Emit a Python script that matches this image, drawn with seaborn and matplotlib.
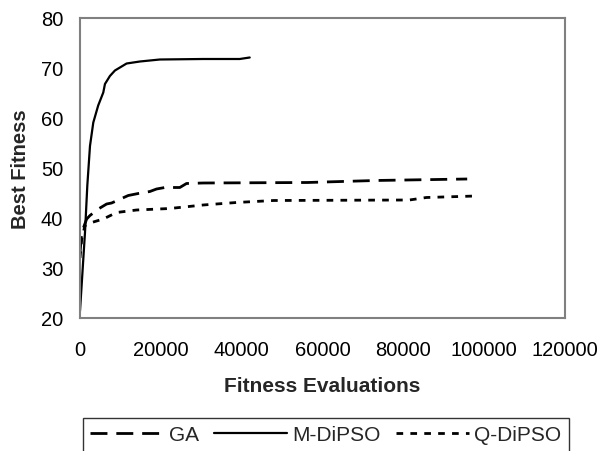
import matplotlib
matplotlib.use("Agg")
import matplotlib.pyplot as plt
import seaborn as sns
import pandas as pd

# ---- data ----
ga_x = [0, 420, 1650, 2470, 4530, 6590, 7820, 10290, 11940, 14410, 17290, 18940,
        21000, 24700, 26350, 30460, 56300, 73100, 95800]
ga_y = [33, 37.1, 39.8, 40.5, 41.8, 42.8, 43.0, 43.9, 44.5, 44.9, 45.3, 45.8,
        46.1, 46.1, 46.9, 47.0, 47.1, 47.5, 47.8]

mdipso_x = [0, 1235, 1810, 2470, 3290, 4500, 5760, 6175, 7400, 8645, 9880,
            11530, 14820, 19760, 30460, 39520, 41990]
mdipso_y = [21.4, 37.1, 46.5, 54.4, 59.1, 62.5, 65.1, 66.8, 68.4, 69.5, 70.1,
            70.9, 71.3, 71.7, 71.8, 71.8, 72.1]

qdipso_x = [0, 420, 1235, 2470, 5760, 9060, 14000, 22230, 30460, 38700, 47900,
            81500, 85700, 97900]
qdipso_y = [32, 35.8, 38.5, 39.0, 39.8, 41.1, 41.6, 41.9, 42.6, 43.1, 43.5,
            43.6, 44.1, 44.4]

series_names = ["GA", "M-DiPSO", "Q-DiPSO"]
x_ticks = [0, 20000, 40000, 60000, 80000, 100000, 120000]
y_ticks = [20, 30, 40, 50, 60, 70, 80]

sns.set_style("white")
plt.rcParams['font.family'] = ['Liberation Sans', 'DejaVu Sans']

W, H = 599, 452
fig = plt.figure(figsize=(W/100, H/100), dpi=100)
ax = fig.add_axes([80/W, 1-319/H, (565-80)/W, (319-19)/H])

styles = {
    "GA": ((0, (6.1, 3.2)), 2.0),
    "M-DiPSO": ("-", 1.6),
    "Q-DiPSO": ((0, (2.4, 2.6)), 2.0),
}
data = {
    "GA": (ga_x, ga_y),
    "M-DiPSO": (mdipso_x, mdipso_y),
    "Q-DiPSO": (qdipso_x, qdipso_y),
}
for name in series_names:
    xs, ys = data[name]
    df = pd.DataFrame({"x": xs, "y": ys})
    ls, lw = styles[name]
    sns.lineplot(data=df, x="x", y="y", ax=ax, color="black", linewidth=lw,
                 linestyle=ls, label=name, legend=False)

ax.set_xlim(0, 120000)
ax.set_ylim(20, 80)
ax.set_xticks(x_ticks)
ax.set_xticklabels([str(t) for t in x_ticks])
ax.set_yticks(y_ticks)
ax.set_yticklabels([str(t) for t in y_ticks])
ax.tick_params(axis='both', direction='out', length=5, width=1, color='#404040',
               labelsize=14.5, labelcolor='black')
ax.tick_params(axis='x', pad=11)
ax.tick_params(axis='y', pad=7)
for s in ax.spines.values():
    s.set_color('#808080')
    s.set_linewidth(1.5)

ax.set_xlabel("Fitness Evaluations", fontsize=15, fontweight='bold', labelpad=12)
ax.set_ylabel("Best Fitness", fontsize=14.5, fontweight='bold', labelpad=8)

handles, labels = ax.get_legend_handles_labels()
leg = fig.legend(handles, labels, loc='upper center',
                 bbox_to_anchor=(326/W, 1-419/H),
                 ncol=3, frameon=True, fancybox=False, edgecolor='black',
                 fontsize=15, handlelength=3.5, handletextpad=0.25,
                 columnspacing=0.75, borderpad=0.35, borderaxespad=0)
leg.get_frame().set_linewidth(1.0)

fig.savefig("out.png", dpi=100)
